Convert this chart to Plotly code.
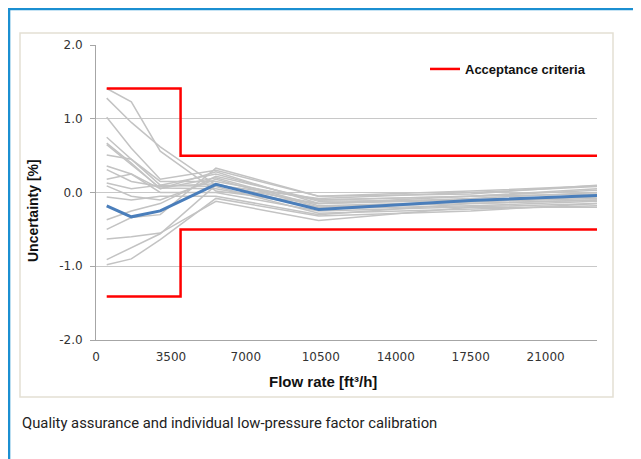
import plotly.graph_objects as go

# ---- data ----
flow = [500, 1650, 3000, 5600, 10400, 17500, 23400]

gray_series = [
    [1.41, 1.23, 0.56, 0.02, -0.15, -0.05, 0.05],
    [1.28, 0.95, 0.62, 0.10, -0.08, 0.00, 0.08],
    [1.02, 0.60, 0.18, 0.30, -0.05, -0.02, 0.10],
    [0.75, 0.45, 0.10, 0.25, -0.12, -0.10, -0.05],
    [0.67, 0.40, 0.05, 0.20, -0.18, -0.12, -0.08],
    [0.65, 0.38, 0.06, 0.05, -0.20, -0.15, -0.10],
    [0.51, 0.45, 0.15, 0.15, -0.10, -0.05, -0.02],
    [0.36, 0.25, 0.05, 0.28, -0.15, -0.08, 0.00],
    [0.31, 0.15, 0.08, 0.12, -0.22, -0.18, -0.12],
    [0.18, 0.25, 0.00, 0.00, -0.25, -0.20, -0.15],
    [0.13, 0.05, 0.10, 0.08, -0.28, -0.22, -0.18],
    [0.09, -0.05, -0.10, 0.18, -0.20, -0.12, -0.06],
    [-0.06, -0.10, -0.05, -0.05, -0.30, -0.15, -0.10],
    [-0.37, -0.25, -0.15, 0.22, -0.10, -0.05, 0.03],
    [-0.50, -0.34, -0.30, 0.33, -0.05, 0.02, 0.09],
    [-0.63, -0.60, -0.55, -0.12, -0.38, -0.20, -0.20],
    [-0.91, -0.75, -0.56, 0.10, -0.15, -0.10, -0.05],
    [-0.98, -0.90, -0.64, -0.08, -0.32, -0.25, -0.15],
]

mean_series = [-0.18, -0.33, -0.25, 0.11, -0.23, -0.11, -0.04]

crit_x = [500, 3950, 3950, 23400]
crit_upper = [1.41, 1.41, 0.5, 0.5]
crit_lower = [-1.41, -1.41, -0.5, -0.5]

x_ticks = [0, 3500, 7000, 10500, 14000, 17500, 21000]
x_tick_labels = ["0", "3500", "7000", "10500", "14000", "17500", "21000"]
y_ticks = [-2.0, -1.0, 0.0, 1.0, 2.0]
y_tick_labels = ["-2.0", "-1.0", "0.0", "1.0", "2.0"]

legend_name = "Acceptance criteria"
x_title = "Flow rate [ft³/h]"
y_title = "Uncertainty [%]"
caption = "Quality assurance and individual low-pressure factor calibration"

# ---- layout geometry (window pixels; page body has an 8px offset) ----
OFF = 8
W, H = 641 - OFF, 459 - OFF
L, R, T, B = 96, 597, 45, 340


def px(x):
    return (x - L) / (R - L)


def py(y):
    return (B - y) / (B - T)


fig = go.Figure()

for s in gray_series:
    fig.add_trace(go.Scatter(x=flow, y=s, mode="lines",
                             line=dict(color="#c3c3c3", width=1.5),
                             showlegend=False, hoverinfo="skip"))

fig.add_trace(go.Scatter(x=flow, y=mean_series, mode="lines",
                         line=dict(color="#4a7ebb", width=3),
                         showlegend=False))

fig.add_trace(go.Scatter(x=crit_x, y=crit_upper, mode="lines",
                         line=dict(color="#ff0000", width=2.5),
                         name=legend_name, showlegend=True))
fig.add_trace(go.Scatter(x=crit_x, y=crit_lower, mode="lines",
                         line=dict(color="#ff0000", width=2.5),
                         name=legend_name, showlegend=False))

shapes = [
    # inner chart frame
    dict(type="rect", xref="paper", yref="paper",
         x0=px(20), x1=px(613), y0=py(397), y1=py(33),
         line=dict(color="#e4e0d3", width=1.5), layer="below"),
    # blue outer border (top and left)
    dict(type="line", xref="paper", yref="paper",
         x0=px(OFF), x1=px(660), y0=py(OFF + 0.8), y1=py(OFF + 0.8),
         line=dict(color="#1b8fd1", width=3)),
    dict(type="line", xref="paper", yref="paper",
         x0=px(OFF + 0.8), x1=px(OFF + 0.8), y0=py(OFF), y1=py(480),
         line=dict(color="#1b8fd1", width=3)),
]

annotations = [
    dict(text=caption, xref="paper", yref="paper", x=px(20), y=py(423),
         xanchor="left", yanchor="middle", showarrow=False,
         font=dict(family="Roboto", size=14.8, color="#222222")),
    dict(text=x_title, xref="paper", yref="paper", x=px(322.5), y=py(381),
         xanchor="center", yanchor="middle", showarrow=False,
         font=dict(family="Liberation Sans", size=15, color="#111111", weight="bold")),
    dict(text=y_title, xref="paper", yref="paper", x=px(33), y=py(211),
         xanchor="center", yanchor="middle", showarrow=False, textangle=-90,
         font=dict(family="Liberation Sans", size=14, color="#111111", weight="bold")),
]

fig.update_layout(
    width=W, height=H,
    margin=dict(l=L - OFF, r=W - (R - OFF), t=T - OFF, b=H - (B - OFF)),
    paper_bgcolor="white", plot_bgcolor="white",
    shapes=shapes, annotations=annotations,
    legend=dict(x=px(425), y=py(69), xanchor="left", yanchor="middle",
                bgcolor="rgba(0,0,0,0)",
                font=dict(family="Liberation Sans", size=13, color="#111111", weight="bold")),
    xaxis=dict(range=[0, 23400], tickvals=x_ticks, ticktext=x_tick_labels,
               showgrid=False, zeroline=False, showline=True, linecolor="#a6a6a6",
               linewidth=1, ticks="", ticklabelstandoff=6,
               tickfont=dict(family="DejaVu Sans", size=12, color="#333333")),
    yaxis=dict(range=[-2, 2], tickvals=y_ticks, ticktext=y_tick_labels,
               showgrid=True, gridcolor="#c8c8c8", gridwidth=1,
               zeroline=False, showline=True, linecolor="#a6a6a6", linewidth=1,
               ticks="outside", ticklen=5, tickcolor="#a6a6a6", ticklabelstandoff=5,
               tickfont=dict(family="DejaVu Sans", size=12, color="#333333")),
)

fig.write_html("out.html")
